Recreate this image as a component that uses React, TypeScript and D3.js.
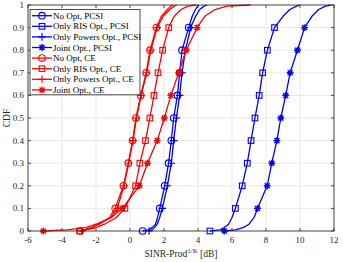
import React from 'react';
import * as d3 from 'd3';

// cdf levels shared by all curves
const cdfLevels = [0, 0.005, 0.015, 0.03, 0.06, 0.1, 0.2, 0.3, 0.4, 0.5, 0.6, 0.7, 0.8, 0.9, 0.95, 0.98, 0.995, 1];
const markerLevels = [0, 0.1, 0.2, 0.3, 0.4, 0.5, 0.6, 0.7, 0.8, 0.9];

const noOptPcsi = [0.74, 1.1, 1.3, 1.5, 1.62, 1.75, 2.04, 2.27, 2.43, 2.57, 2.79, 2.92, 3.06, 3.45, 3.66, 3.85, 3.98, 4.05];
const risPcsi = [4.7, 5.3, 5.55, 5.8, 6.0, 6.2, 6.6, 6.9, 7.12, 7.35, 7.6, 7.8, 8.08, 8.5, 9.0, 9.4, 9.8, 10.0];
const powersPcsi = [1.12, 1.3, 1.45, 1.6, 1.75, 1.9, 2.2, 2.43, 2.57, 2.73, 2.92, 3.06, 3.26, 3.57, 3.86, 4.1, 4.35, 4.55];
const jointPcsi = [5.55, 6.2, 6.65, 7.0, 7.3, 7.5, 8.07, 8.34, 8.64, 8.87, 9.16, 9.42, 9.85, 10.27, 10.7, 11.1, 11.5, 11.8];
const noOptCe = [-2.93, -2.7, -2.3, -1.8, -1.2, -0.87, -0.39, -0.1, 0.15, 0.35, 0.63, 0.95, 1.18, 1.55, 1.85, 2.2, 2.4, 2.5];
const risCe = [-2.96, -2.6, -2.0, -1.5, -0.8, -0.3, 0.33, 0.58, 0.91, 1.17, 1.41, 1.65, 1.92, 2.28, 2.6, 3.0, 3.4, 3.9];
const powersCe = [-2.85, -2.6, -2.2, -1.9, -1.1, -0.75, -0.35, -0.08, 0.18, 0.38, 0.66, 0.98, 1.22, 1.6, 1.95, 2.35, 2.6, 2.75];
const jointCe = [-5.1, -3.7, -2.6, -2.0, -1.1, -0.45, 0.55, 1.03, 1.6, 2.02, 2.4, 2.87, 3.3, 3.95, 4.4, 5.0, 5.7, 7.1];

const xTicks = [-6, -4, -2, 0, 2, 4, 6, 8, 10, 12];
const yTicks = [0, 0.1, 0.2, 0.3, 0.4, 0.5, 0.6, 0.7, 0.8, 0.9, 1];

const BLUE = '#0000ff';
const RED = '#ff0000';

const series = [
  { name: 'No Opt, PCSI', values: noOptPcsi, color: BLUE, marker: 'circle' },
  { name: 'Only RIS Opt., PCSI', values: risPcsi, color: BLUE, marker: 'square' },
  { name: 'Only Powers Opt., PCSI', values: powersPcsi, color: BLUE, marker: 'plus' },
  { name: 'Joint Opt., PCSI', values: jointPcsi, color: BLUE, marker: 'star' },
  { name: 'No Opt, CE', values: noOptCe, color: RED, marker: 'circle' },
  { name: 'Only RIS Opt., CE', values: risCe, color: RED, marker: 'square' },
  { name: 'Only Powers Opt., CE', values: powersCe, color: RED, marker: 'plus' },
  { name: 'Joint Opt., CE', values: jointCe, color: RED, marker: 'star' },
];

const W = 343;
const H = 262;
const margin = { left: 28, right: 9, top: 5, bottom: 31 };
const FONT = '"Liberation Serif", "Times New Roman", serif';

function Marker({ type, x, y, color }: { type: string; x: number; y: number; color: string }) {
  const common = { stroke: color, strokeWidth: 1.1, fill: 'none' };
  if (type === 'circle') return <circle cx={x} cy={y} r={3.3} {...common} />;
  if (type === 'square') return <rect x={x - 2.8} y={y - 2.8} width={5.6} height={5.6} {...common} />;
  if (type === 'plus')
    return <path d={`M${x - 3.8},${y}H${x + 3.8}M${x},${y - 3.8}V${y + 3.8}`} {...common} />;
  const a = 3.4, b = 2.5;
  return (
    <path
      d={`M${x - a},${y}H${x + a}M${x},${y - a}V${y + a}M${x - b},${y - b}L${x + b},${y + b}M${x - b},${y + b}L${x + b},${y - b}`}
      {...common}
      strokeWidth={1.4}
    />
  );
}

export default function App() {
  const x = d3.scaleLinear().domain([-6, 12]).range([margin.left, W - margin.right]);
  const y = d3.scaleLinear().domain([0, 1]).range([H - margin.bottom, margin.top]);
  const line = d3
    .line<number>()
    .x((d) => x(d))
    .y((_, i) => y(cdfLevels[i]));

  const x0 = x.range()[0], x1 = x.range()[1];
  const y0 = y.range()[0], y1 = y.range()[1];

  const legX = 30, legY = 9.5, legW = 110, legRow = 10.6;

  return (
    <svg width={W} height={H} style={{ position: 'absolute', left: 0, top: 0, background: '#fff' }} fontFamily={FONT}>
      <rect x={x0} y={y1} width={x1 - x0} height={y0 - y1} fill="#fff" />
      {xTicks.map((t) => (
        <line key={'gx' + t} x1={x(t)} x2={x(t)} y1={y0} y2={y1} stroke="#e3e3e3" strokeWidth={0.8} />
      ))}
      {yTicks.map((t) => (
        <line key={'gy' + t} x1={x0} x2={x1} y1={y(t)} y2={y(t)} stroke="#e3e3e3" strokeWidth={0.8} />
      ))}
      {series.map((s) => (
        <g key={s.name}>
          <path d={line(s.values) || ''} fill="none" stroke={s.color} strokeWidth={1.3} strokeLinejoin="round" />
          {markerLevels.map((lv) => {
            const i = cdfLevels.indexOf(lv);
            return <Marker key={lv} type={s.marker} x={x(s.values[i])} y={y(lv)} color={s.color} />;
          })}
        </g>
      ))}
      <rect x={x0} y={y1} width={x1 - x0} height={y0 - y1} fill="none" stroke="#262626" strokeWidth={0.8} />
      {xTicks.map((t) => (
        <g key={'tx' + t}>
          <line x1={x(t)} x2={x(t)} y1={y0} y2={y0 - 3} stroke="#262626" strokeWidth={0.8} />
          <line x1={x(t)} x2={x(t)} y1={y1} y2={y1 + 3} stroke="#262626" strokeWidth={0.8} />
          <text x={x(t)} y={y0 + 12} fontSize={9} textAnchor="middle" fill="#262626">
            {t}
          </text>
        </g>
      ))}
      {yTicks.map((t) => (
        <g key={'ty' + t}>
          <line x1={x0} x2={x0 + 3} y1={y(t)} y2={y(t)} stroke="#262626" strokeWidth={0.8} />
          <line x1={x1} x2={x1 - 3} y1={y(t)} y2={y(t)} stroke="#262626" strokeWidth={0.8} />
          <text x={x0 - 4} y={y(t) + 3} fontSize={9} textAnchor="end" fill="#262626">
            {t}
          </text>
        </g>
      ))}
      <text x={(x0 + x1) / 2} y={257} fontSize={9.5} textAnchor="middle" fill="#262626">
        SINR-Prod
        <tspan fontSize={7} dy={-4}>1/K</tspan>
        <tspan dy={4}> [dB]</tspan>
      </text>
      <text transform={`translate(10,${(y0 + y1) / 2}) rotate(-90)`} fontSize={9.5} textAnchor="middle" fill="#262626">
        CDF
      </text>
      <rect x={legX} y={legY} width={legW} height={legRow * 8 + 0.5} fill="#fff" stroke="#262626" strokeWidth={0.8} />
      {series.map((s, i) => {
        const cy = legY + 6.2 + i * legRow;
        return (
          <g key={'leg' + s.name}>
            <line x1={legX + 2} x2={legX + 22} y1={cy} y2={cy} stroke={s.color} strokeWidth={1.3} />
            <Marker type={s.marker} x={legX + 12} y={cy} color={s.color} />
            <text x={legX + 23} y={cy + 3} fontSize={9} fill="#000">
              {s.name}
            </text>
          </g>
        );
      })}
    </svg>
  );
}
